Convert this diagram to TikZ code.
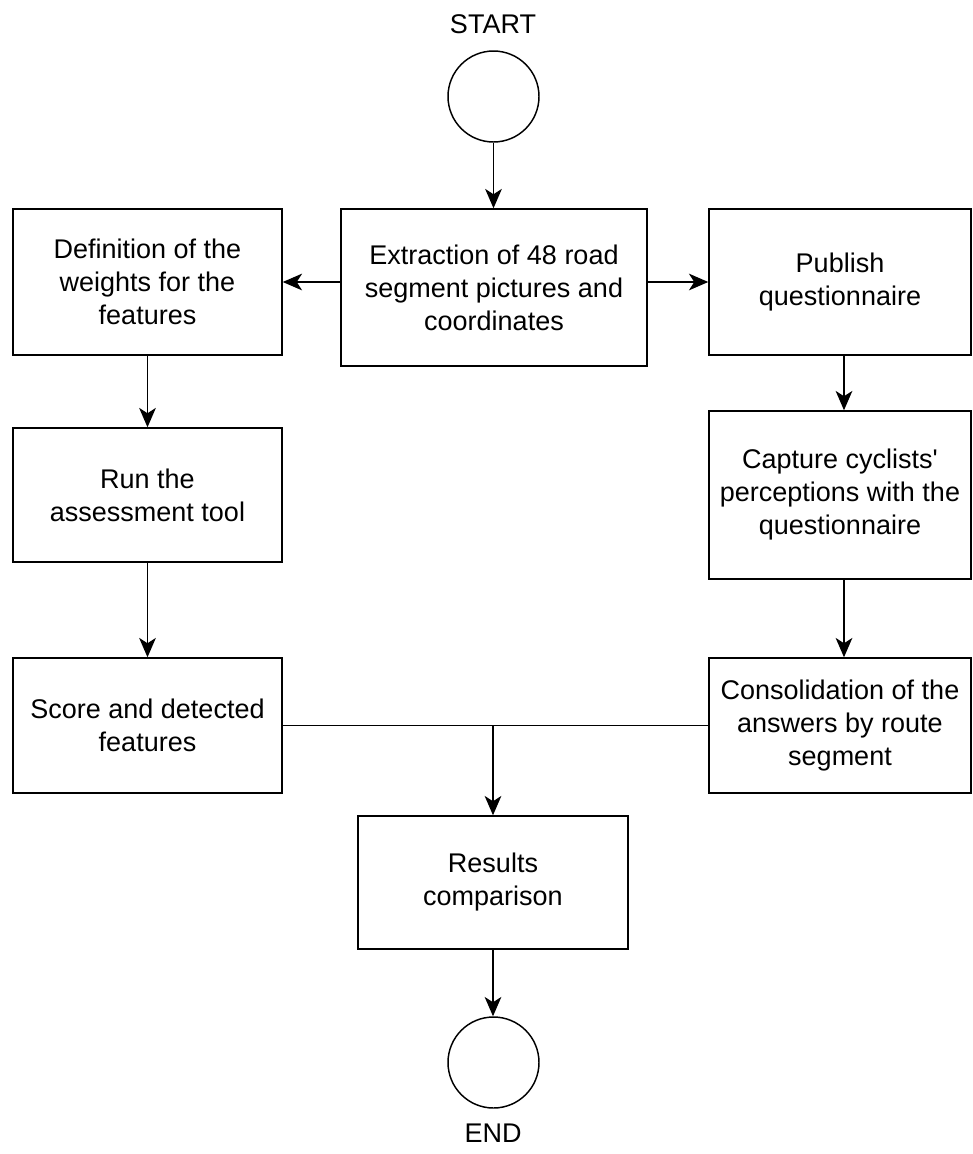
\documentclass[tikz,border=0pt]{standalone}
\usepackage{fontspec}
\setmainfont{Liberation Sans}[Ligatures=TeXOff]
\usetikzlibrary{arrows.meta}
\begin{document}
\begin{tikzpicture}[x=0.75pt,y=-0.75pt,
  box/.style={draw,line width=1.1pt,rectangle,align=center,inner sep=0pt,
    font=\fontsize{20.25pt}{24.75pt}\selectfont},
  term/.style={draw,line width=1.1pt,circle,minimum size=68.25pt,inner sep=0pt},
  lbl/.style={font=\fontsize{20.25pt}{24.75pt}\selectfont,inner sep=0pt},
  arr/.style={line width=1.2pt,-{Stealth[length=14.5pt,width=12.5pt,inset=4pt]}},
  ln/.style={line width=1.2pt}]
\useasboundingbox (0,0) rectangle (972,1154);
\node[lbl] (startlbl) at (493,24) {START};
\node[term] (start) at (493.5,96.5) {};
\node[box,minimum width=229.5pt,minimum height=117.75pt] (ext) at (494,287.5)
  {Extraction of 48 road\\segment pictures and\\coordinates};
\node[box,minimum width=201.75pt,minimum height=109.5pt] (def) at (147.5,282)
  {Definition of the\\weights for the\\features};
\node[box,minimum width=196.5pt,minimum height=109.5pt] (pub) at (840,282)
  {Publish\\questionnaire};
\node[box,minimum width=201.75pt,minimum height=100.5pt] (run) at (147.5,495)
  {Run the\\assessment tool};
\node[box,minimum width=196.5pt,minimum height=126pt] (cap) at (840,495)
  {Capture cyclists'\\perceptions with the\\questionnaire};
\node[box,minimum width=201.75pt,minimum height=101.25pt] (score) at (147.5,725.5)
  {Score and detected\\features};
\node[box,minimum width=196.5pt,minimum height=101.25pt] (cons) at (840,725.5)
  {Consolidation of the\\answers by route\\segment};
\node[box,minimum width=202.5pt,minimum height=99.75pt] (res) at (493,882.5)
  {Results\\comparison};
\node[term] (end) at (493.5,1062.5) {};
\node[lbl] (endlbl) at (493,1133) {END};
\draw[arr] (start.south) -- (start.south |- ext.north);
\draw[arr] (ext.west |- def.east) -- (def.east);
\draw[arr] (ext.east |- pub.west) -- (pub.west);
\draw[arr] (def.south) -- (run.north);
\draw[arr] ([xshift=3pt]pub.south) -- ([xshift=3pt]cap.north);
\draw[arr] (run.south) -- (score.north);
\draw[arr] ([xshift=3pt]cap.south) -- ([xshift=3pt]cons.north);
\coordinate (join) at (res.north |- score.east);
\draw[ln] (score.east) -- (cons.west);
\draw[arr] (join) -- (res.north);
\draw[arr] (res.south) -- (res.south |- end.north);
\end{tikzpicture}
\end{document}
